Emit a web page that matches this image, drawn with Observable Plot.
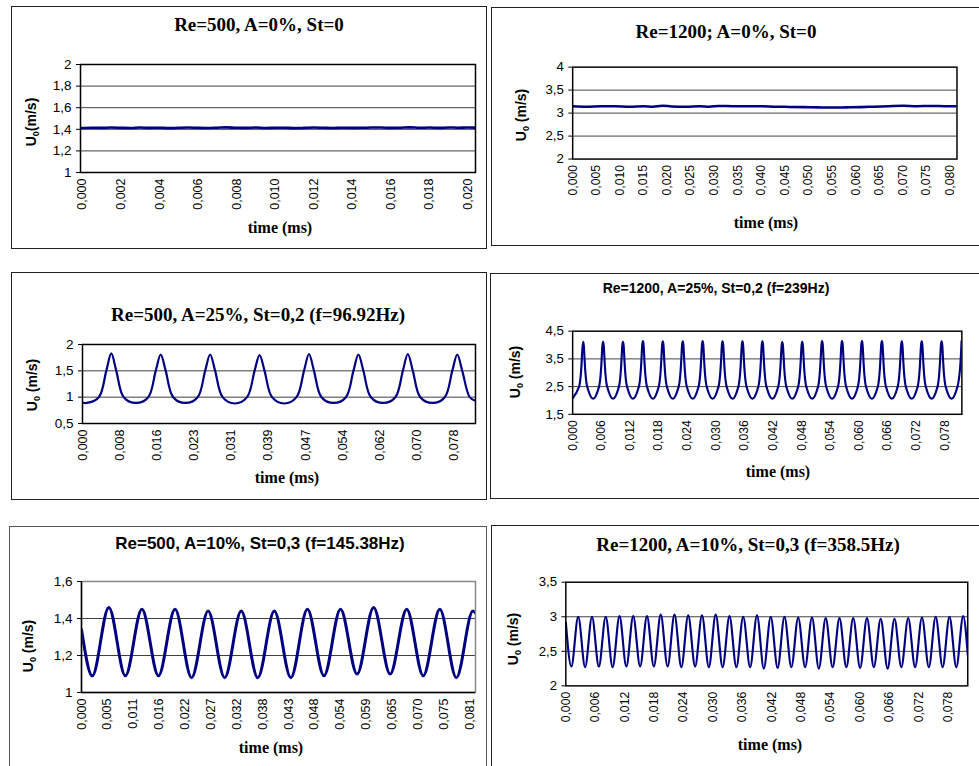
<!DOCTYPE html>
<html><head><meta charset="utf-8">
<script src="https://cdn.jsdelivr.net/npm/d3@7"></script>
<script src="https://cdn.jsdelivr.net/npm/@observablehq/plot@0.6"></script>
<style>
body{margin:0;background:#fff;}
#page{position:relative;width:979px;height:766px;overflow:hidden;background:#fff;}
.box{position:absolute;border:1.5px solid #222;box-sizing:border-box;}
.plotwrap{position:absolute;}
.plotwrap svg{display:block;}
#overlay{position:absolute;left:0;top:0;pointer-events:none;}
</style></head><body><div id="page"></div><script>
// ---------- Panel 1: Re=500, A=0%, St=0 ----------
const p1Time = [-0.0001,0.0005,0.0010,0.0015,0.0020,0.0025,0.0030,0.0035,0.0040,0.0045,0.0050,0.0055,0.0060,0.0065,0.0070,0.0075,0.0080,0.0085,0.0090,0.0095,0.0100,0.0105,0.0110,0.0115,0.0120,0.0125,0.0130,0.0135,0.0140,0.0145,0.0150,0.0155,0.0160,0.0165,0.0170,0.0175,0.0180,0.0185,0.0190,0.0195,0.0200,0.0204];
const p1U = [1.412,1.415,1.413,1.416,1.414,1.412,1.417,1.413,1.415,1.411,1.414,1.416,1.413,1.412,1.415,1.418,1.414,1.413,1.416,1.412,1.414,1.415,1.411,1.413,1.416,1.414,1.412,1.415,1.413,1.414,1.416,1.417,1.413,1.415,1.418,1.414,1.416,1.413,1.417,1.415,1.416,1.415];
const p1XTicks = [0,0.002,0.004,0.006,0.008,0.010,0.012,0.014,0.016,0.018,0.020];
const p1XLabels = ["0,000","0,002","0,004","0,006","0,008","0,010","0,012","0,014","0,016","0,018","0,020"];
const p1YTicks = [1,1.2,1.4,1.6,1.8,2];
const p1YLabels = ["1","1,2","1,4","1,6","1,8","2"];

// ---------- Panel 2: Re=1200; A=0%, St=0 ----------
const p2Time = [0,0.003,0.006,0.009,0.012,0.015,0.017,0.019,0.021,0.024,0.027,0.029,0.031,0.034,0.037,0.040,0.043,0.046,0.049,0.052,0.055,0.058,0.061,0.064,0.067,0.070,0.073,0.076,0.079,0.0815];
const p2U = [3.15,3.14,3.15,3.15,3.14,3.15,3.14,3.16,3.145,3.14,3.15,3.14,3.155,3.15,3.15,3.15,3.14,3.135,3.13,3.125,3.12,3.125,3.13,3.14,3.15,3.16,3.15,3.155,3.15,3.15];
const p2XTicks = [0,0.005,0.010,0.015,0.020,0.025,0.030,0.035,0.040,0.045,0.050,0.055,0.060,0.065,0.070,0.075,0.080];
const p2XLabels = ["0,000","0,005","0,010","0,015","0,020","0,025","0,030","0,035","0,040","0,045","0,050","0,055","0,060","0,065","0,070","0,075","0,080"];
const p2YTicks = [2,2.5,3,3.5,4];
const p2YLabels = ["2","2,5","3","3,5","4"];

// ---------- Panel 3: Re=500, A=25%, St=0,2 ----------
const p3Time = [0,0.00085,
 0.0034,0.00496,0.006,0.00704,0.0086,0.01115,
 0.0137,0.01526,0.0163,0.01734,0.0189,0.02145,
 0.024,0.02556,0.0266,0.02764,0.0292,0.03175,
 0.0343,0.03586,0.0369,0.03794,0.0395,0.04205,
 0.0446,0.04616,0.0472,0.04824,0.0498,0.05235,
 0.0549,0.05646,0.0575,0.05854,0.0601,0.06265,
 0.0652,0.06676,0.0678,0.06884,0.0704,0.07295,
 0.0755,0.07706,0.0781,0.07914,0.0807,
 0.0819];
const p3U = [0.90,0.89,
 1.0,1.5,1.83,1.5,1.0,0.89,
 1.0,1.5,1.81,1.5,1.0,0.89,
 1.0,1.5,1.81,1.5,1.0,0.88,
 1.0,1.5,1.80,1.5,1.0,0.88,
 1.0,1.5,1.82,1.5,1.0,0.89,
 1.0,1.5,1.81,1.5,1.0,0.89,
 1.0,1.5,1.82,1.5,1.0,0.89,
 1.0,1.5,1.81,1.5,1.0,
 0.93];
const p3XTicks = [0,0.00775,0.0155,0.02325,0.031,0.03875,0.0465,0.05425,0.062,0.06975,0.0775];
const p3XLabels = ["0,000","0,008","0,016","0,023","0,031","0,039","0,047","0,054","0,062","0,070","0,078"];
const p3YTicks = [0.5,1,1.5,2];
const p3YLabels = ["0,5","1","1,5","2"];

// ---------- Panel 4: Re=1200, A=25%, St=0,2 ----------
const p4Time = [0,
 0.00135,0.0022,0.00305,0.00429,
 0.00553,0.00638,0.00723,0.00847,
 0.0097,0.01055,0.0114,0.01264,
 0.01388,0.01473,0.01558,0.01682,
 0.01805,0.0189,0.01975,0.02099,
 0.02223,0.02308,0.02393,0.02517,
 0.0264,0.02725,0.0281,0.02934,
 0.03058,0.03143,0.03228,0.03352,
 0.03475,0.0356,0.03645,0.03769,
 0.03893,0.03978,0.04063,0.04187,
 0.0431,0.04395,0.0448,0.04604,
 0.04728,0.04813,0.04898,0.05022,
 0.05145,0.0523,0.05315,0.05439,
 0.05563,0.05648,0.05733,0.05857,
 0.0598,0.06065,0.0615,0.06274,
 0.06398,0.06483,0.06568,0.06692,
 0.06815,0.069,0.06985,0.07109,
 0.07233,0.07318,0.07403,0.07527,
 0.0765,0.07735,0.0782,0.07944,
 0.08068,0.08153];
const p4U = [2.08,
 2.5,4.12,2.5,2.06,
 2.5,4.12,2.5,2.06,
 2.5,4.12,2.5,2.06,
 2.5,4.14,2.5,2.06,
 2.5,4.13,2.5,2.06,
 2.5,4.13,2.5,2.06,
 2.5,4.14,2.5,2.06,
 2.5,4.13,2.5,2.06,
 2.5,4.13,2.5,2.06,
 2.5,4.13,2.5,2.06,
 2.5,4.11,2.5,2.06,
 2.5,4.12,2.5,2.06,
 2.5,4.14,2.5,2.06,
 2.5,4.14,2.5,2.06,
 2.5,4.14,2.5,2.06,
 2.5,4.14,2.5,2.06,
 2.5,4.13,2.5,2.06,
 2.5,4.13,2.5,2.06,
 2.5,4.13,2.5,2.06,
 2.5,4.14];
const p4XTicks = [0,0.006,0.012,0.018,0.024,0.030,0.036,0.042,0.048,0.054,0.060,0.066,0.072,0.078];
const p4XLabels = ["0,000","0,006","0,012","0,018","0,024","0,030","0,036","0,042","0,048","0,054","0,060","0,066","0,072","0,078"];
const p4YTicks = [1.5,2.5,3.5,4.5];
const p4YLabels = ["1,5","2,5","3,5","4,5"];

// ---------- Panel 5: Re=500, A=10%, St=0,3 ----------
const p5Time = [0,0.00224,0.00568,0.00912,0.01256,0.016,0.01944,0.02288,0.02632,0.02976,0.0332,0.03664,0.04008,0.04352,0.04696,0.0504,0.05384,0.05728,0.06072,0.06416,0.0676,0.07104,0.07448,0.07792,0.08136,0.0819];
const p5U = [1.34,1.09,1.46,1.09,1.45,1.09,1.45,1.08,1.44,1.08,1.44,1.08,1.44,1.08,1.45,1.09,1.45,1.10,1.46,1.10,1.45,1.09,1.45,1.08,1.44,1.43];
const p5XTicks = [0,0.00538,0.01076,0.01614,0.02152,0.0269,0.03228,0.03766,0.04304,0.04842,0.0538,0.05918,0.06456,0.06994,0.07532,0.0807];
const p5XLabels = ["0,000","0,005","0,011","0,016","0,022","0,027","0,032","0,038","0,043","0,048","0,054","0,059","0,065","0,070","0,075","0,081"];
const p5YTicks = [1,1.2,1.4,1.6];
const p5YLabels = ["1","1,2","1,4","1,6"];

// ---------- Panel 6: Re=1200, A=10%, St=0,3 ----------
const p6Time = [0,
 0.00113,0.00253, 0.00394,0.00534, 0.00674,0.00814, 0.00955,0.01095, 0.01235,0.01375,
 0.01516,0.01656, 0.01796,0.01936, 0.02077,0.02217, 0.02357,0.02497, 0.02638,0.02778,
 0.02918,0.03058, 0.03199,0.03339, 0.03479,0.03619, 0.0376,0.039, 0.0404,0.0418,
 0.04321,0.04461, 0.04601,0.04741, 0.04882,0.05022, 0.05162,0.05302, 0.05443,0.05583,
 0.05723,0.05863, 0.06004,0.06144, 0.06284,0.06424, 0.06565,0.06705, 0.06845,0.06985,
 0.07126,0.07266, 0.07406,0.07546, 0.07687,0.07827, 0.07967,0.08107,
 0.082];
const p6U = [2.92,
 2.28,3.00, 2.27,3.00, 2.28,3.00, 2.27,3.01, 2.28,3.01,
 2.28,3.01, 2.28,3.03, 2.28,3.03, 2.27,3.02, 2.28,3.02,
 2.27,3.03, 2.27,3.01, 2.27,3.00, 2.27,3.02, 2.25,3.00,
 2.26,3.00, 2.27,2.99, 2.27,2.99, 2.25,2.98, 2.27,2.98,
 2.27,2.98, 2.26,2.98, 2.27,2.97, 2.25,2.97, 2.27,2.98,
 2.27,2.99, 2.27,3.00, 2.27,3.00, 2.27,3.01,
 2.45];
const p6XTicks = [0,0.006,0.012,0.018,0.024,0.030,0.036,0.042,0.048,0.054,0.060,0.066,0.072,0.078];
const p6XLabels = ["0,000","0,006","0,012","0,018","0,024","0,030","0,036","0,042","0,048","0,054","0,060","0,066","0,072","0,078"];
const p6YTicks = [2,2.5,3,3.5];
const p6YLabels = ["2","2,5","3","3,5"];

// ---------- Panel layout (options) ----------
const SERIF = "'Liberation Serif','Times New Roman',serif";
const SANS = "'Liberation Sans',Arial,sans-serif";
const panels = [
 {time:p1Time,u:p1U,xT:p1XTicks,xL:p1XLabels,yT:p1YTicks,yL:p1YLabels,xDomain:[-0.0001,0.0204],yDomain:[1,2],grid:[1.2,1.4,1.6,1.8],
  box:{l:11,t:6,r:487,b:249},plot:{l:80,t:64,r:475,b:172},sw:2.6,frame:"#000",curve:"monotone-x",
  title:"Re=500, A=0%, St=0",tFont:SERIF,tSize:19,tx:259,ty:31,xlx:280,xly:233,ylx:31,yly:122,ySpace:""},
 {time:p2Time,u:p2U,xT:p2XTicks,xL:p2XLabels,yT:p2YTicks,yL:p2YLabels,xDomain:[0,0.0815],yDomain:[2,4],grid:[2.5,3,3.5],
  box:{l:491,t:7,r:990,b:246},plot:{l:574,t:68,r:967,b:162},sw:2.6,frame:"#000",curve:"monotone-x",
  title:"Re=1200; A=0%, St=0",tFont:SERIF,tSize:19,tx:726,ty:38,xlx:766,xly:228,ylx:521,yly:115,ySpace:" "},
 {time:p3Time,u:p3U,xT:p3XTicks,xL:p3XLabels,yT:p3YTicks,yL:p3YLabels,xDomain:[0,0.0819],yDomain:[0.5,2],grid:[1,1.5],
  box:{l:11,t:272,r:487,b:500},plot:{l:82,t:344,r:475,b:423},sw:2.2,frame:"#000",curve:"catmull-rom",
  title:"Re=500, A=25%, St=0,2 (f=96.92Hz)",tFont:SERIF,tSize:19,tx:258,ty:321,xlx:287,xly:483,ylx:32,yly:385,ySpace:" "},
 {time:p4Time,u:p4U,xT:p4XTicks,xL:p4XLabels,yT:p4YTicks,yL:p4YLabels,xDomain:[0,0.0816],yDomain:[1.5,4.5],grid:[2.5,3.5],
  box:{l:490,t:273,r:990,b:499},plot:{l:574,t:332,r:972,b:417},sw:2.2,frame:"#000",curve:"catmull-rom",
  title:"Re=1200, A=25%, St=0,2 (f=239Hz)",tFont:SANS,tSize:14,tx:716,ty:293,xlx:778,xly:477,ylx:515,yly:372,ySpace:" "},
 {time:p5Time,u:p5U,xT:p5XTicks,xL:p5XLabels,yT:p5YTicks,yL:p5YLabels,xDomain:[0,0.0819],yDomain:[1,1.6],grid:[1.2,1.4],
  box:{l:9,t:526,r:487,b:800},plot:{l:81,t:581,r:475,b:692},sw:3,frame:"#888",curve:"monotone-x",
  title:"Re=500, A=10%, St=0,3 (f=145.38Hz)",tFont:SANS,tSize:17,tx:260,ty:549,xlx:271,xly:753,ylx:28,yly:646,ySpace:" "},
 {time:p6Time,u:p6U,xT:p6XTicks,xL:p6XLabels,yT:p6YTicks,yL:p6YLabels,xDomain:[0,0.082],yDomain:[2,3.5],grid:[2.5,3],
  box:{l:491,t:525,r:990,b:800},plot:{l:567,t:583,r:978,b:689},sw:2.2,frame:"#000",curve:"monotone-x",
  title:"Re=1200, A=10%, St=0,3 (f=358.5Hz)",tFont:SERIF,tSize:19,tx:748,ty:551,xlx:770,xly:750,ylx:513,yly:639,ySpace:" "}
];

const page = document.getElementById("page");
const NS = "http://www.w3.org/2000/svg";
const overlay = document.createElementNS(NS, "svg");
overlay.setAttribute("id", "overlay");
overlay.setAttribute("width", 979);
overlay.setAttribute("height", 766);

function addText(parent, txt, attrs) {
  const el = document.createElementNS(NS, "text");
  for (const k in attrs) el.setAttribute(k, attrs[k]);
  if (txt != null) el.textContent = txt;
  parent.appendChild(el);
  return el;
}

for (const p of panels) {
  const W = p.box.r - p.box.l, H = p.box.b - p.box.t;
  const data = p.time.map((t, i) => ({t, u: p.u[i]}));
  const xFmt = new Map(p.xT.map((d, i) => [d, p.xL[i]]));
  const yFmt = new Map(p.yT.map((d, i) => [d, p.yL[i]]));
  const marks = [
    Plot.ruleY(p.grid, {stroke: "#404040", strokeWidth: 1}),
    Plot.line(data, {x: "t", y: "u", stroke: "#000080", strokeWidth: p.sw, curve: p.curve, clip: true}),
    Plot.frame({stroke: p.frame, strokeWidth: 1.5}),
  ];
  if (p.frame !== "#000") {
    marks.push(Plot.ruleY([p.yDomain[0]], {stroke: "#000", strokeWidth: 1.5}));
    marks.push(Plot.ruleX([p.xDomain[0]], {stroke: "#000", strokeWidth: 1.5}));
  }
  marks.push(Plot.axisX({ticks: p.xT, tickFormat: d => xFmt.get(d), tickRotate: -90, tickSize: 0, tickPadding: 6, fontSize: 12.5, label: null}));
  marks.push(Plot.axisY({ticks: p.yT, tickFormat: d => yFmt.get(d), tickSize: 4, tickPadding: 5, fontSize: 13.5, label: null}));
  const svg = Plot.plot({
    width: W, height: H,
    marginLeft: p.plot.l - p.box.l, marginTop: p.plot.t - p.box.t,
    marginRight: p.box.r - p.plot.r, marginBottom: p.box.b - p.plot.b,
    style: {fontFamily: SANS, fontSize: "12.5px", color: "#000", background: "transparent", overflow: "visible"},
    x: {domain: p.xDomain},
    y: {domain: p.yDomain},
    marks
  });
  const wrap = document.createElement("div");
  wrap.className = "plotwrap";
  wrap.style.left = p.box.l + "px";
  wrap.style.top = p.box.t + "px";
  wrap.appendChild(svg);
  page.appendChild(wrap);

  const box = document.createElement("div");
  box.className = "box";
  box.style.left = p.box.l + "px";
  box.style.top = p.box.t + "px";
  box.style.width = W + "px";
  box.style.height = H + "px";
  if (p.frame !== "#000") box.style.borderColor = "#555";
  page.appendChild(box);

  addText(overlay, p.title, {x: p.tx, y: p.ty, "text-anchor": "middle", "font-family": p.tFont, "font-size": p.tSize, "font-weight": "bold", fill: "#000"});
  addText(overlay, "time (ms)", {x: p.xlx, y: p.xly, "text-anchor": "middle", "font-family": SERIF, "font-size": 16, "font-weight": "bold", fill: "#000"});
  const yl = addText(overlay, null, {transform: `translate(${p.ylx},${p.yly}) rotate(-90)`, "text-anchor": "middle", dy: "0.36em", "font-family": SANS, "font-size": 14, "font-weight": "bold", fill: "#000"});
  const s1 = document.createElementNS(NS, "tspan"); s1.textContent = "U"; yl.appendChild(s1);
  const s2 = document.createElementNS(NS, "tspan"); s2.textContent = "0"; s2.setAttribute("font-size", 9); s2.setAttribute("dy", 3); yl.appendChild(s2);
  const s3 = document.createElementNS(NS, "tspan"); s3.textContent = p.ySpace + "(m/s)"; s3.setAttribute("dy", -3); yl.appendChild(s3);
}
page.appendChild(overlay);
</script></body></html>
